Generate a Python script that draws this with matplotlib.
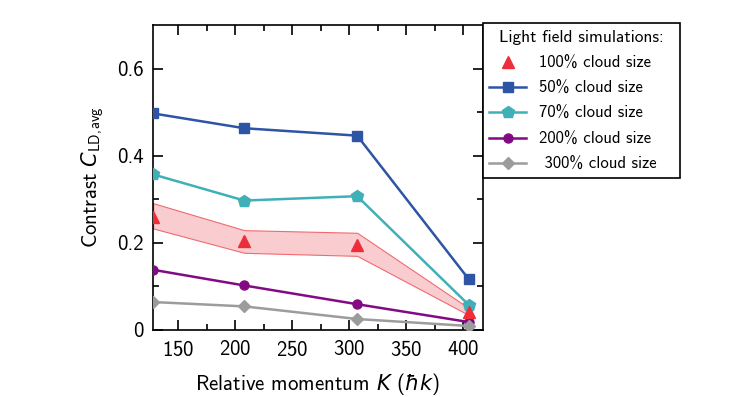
import matplotlib
matplotlib.use('Agg')
import matplotlib.pyplot as plt
import numpy as np

plt.rcParams['font.family'] = ['cmss10', 'DejaVu Sans']
plt.rcParams['mathtext.fontset'] = 'custom'
plt.rcParams['mathtext.rm'] = 'cmss10'
plt.rcParams['mathtext.it'] = 'DejaVu Sans:italic'
plt.rcParams['axes.formatter.use_mathtext'] = True
plt.rcParams['axes.unicode_minus'] = False

# data
K = [128, 208, 307, 405]
c_100 = [0.260, 0.203, 0.195, 0.042]
c_100_hi = [0.291, 0.229, 0.223, 0.050]
c_100_lo = [0.233, 0.177, 0.170, 0.034]
c_50 = [0.497, 0.463, 0.446, 0.116]
c_70 = [0.357, 0.297, 0.307, 0.057]
c_200 = [0.138, 0.102, 0.059, 0.018]
c_300 = [0.064, 0.054, 0.025, 0.009]

fig = plt.figure(figsize=(7.47, 3.97), dpi=100)
ax = fig.add_axes([0.205, 0.169, 0.441, 0.768])

red = '#ee2d3a'
ax.fill_between(K, c_100_lo, c_100_hi, facecolor='#f9cdd0', edgecolor='#f06a70', lw=0.8, zorder=1)
ax.plot(K, c_100, '^', color=red, ms=8.5, ls='none', label='100% cloud size', zorder=5)
ax.plot(K, c_50, 's-', color='#2e55a5', ms=6.5, lw=1.8, label='50% cloud size', zorder=4)
ax.plot(K, c_70, 'p-', color='#40b0b8', ms=9, lw=1.8, label='70% cloud size', zorder=4)
ax.plot(K, c_200, 'o-', color='#820a82', ms=6.5, lw=1.8, label='200% cloud size', zorder=4)
ax.plot(K, c_300, 'D-', color='#9c9c9c', ms=6, lw=1.8, label=' 300% cloud size', zorder=4)

ax.set_xlim(128, 417)
ax.set_ylim(0, 0.7)
ax.set_xticks([150, 200, 250, 300, 350, 400])
ax.set_xticks(np.arange(175, 417, 50), minor=True)
ax.set_yticks([0, 0.2, 0.4, 0.6])
ax.set_yticklabels(['0', '0.2', '0.4', '0.6'])
ax.set_yticks([0.1, 0.3, 0.5], minor=True)
ax.tick_params(which='both', direction='in', top=True, right=True, labelsize=15, pad=7)
ax.tick_params(which='major', length=7, width=1.2)
ax.tick_params(which='minor', length=4, width=1.2)
for s in ax.spines.values():
    s.set_linewidth(1.2)

ax.set_xlabel('Relative momentum $K$ ($\\hbar k$)', fontsize=15, labelpad=8)
ax.set_ylabel('Contrast $C_{\\mathrm{LD,\\!avg}}$', fontsize=15, labelpad=8)

leg = ax.legend(loc='upper left', bbox_to_anchor=(1.0, 0.0, 0.6, 1.005), mode='expand',
                title='Light field simulations:',
                fontsize=12, title_fontsize=12.5, frameon=True, fancybox=False,
                edgecolor='black', framealpha=1, borderaxespad=0, handlelength=2.2,
                labelspacing=0.62)
leg.get_frame().set_linewidth(1.2)

fig.savefig('out.png', dpi=100)
